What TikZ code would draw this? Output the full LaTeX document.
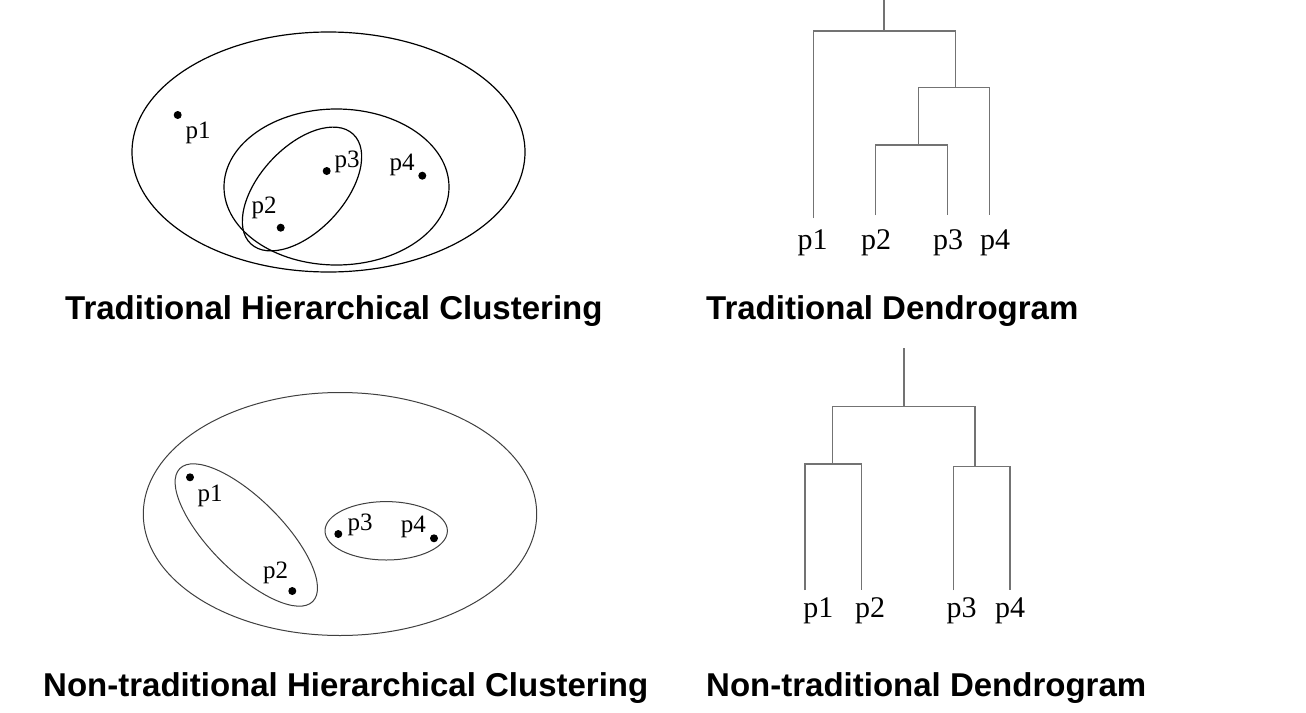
\documentclass[tikz,border=0pt]{standalone}
\usepackage{fontspec}
\setmainfont{Liberation Serif}
\setsansfont{Liberation Sans}
\begin{document}
\begin{tikzpicture}[x=1pt,y=-1pt,
  dot/.style={circle,fill=black,inner sep=0pt,minimum size=8pt},
  plabel/.style={inner sep=0pt,font=\fontsize{25}{25}\selectfont},
  dlabel/.style={inner sep=0pt,font=\fontsize{30}{30}\selectfont},
  title/.style={inner sep=0pt,anchor=base west,font=\sffamily\bfseries\fontsize{33}{33}\selectfont},
  clus/.style={draw=black,line width=1.2pt},
  clusb/.style={draw=black!75,line width=1pt},
  dend/.style={draw=black!55,line width=1.4pt}]
\useasboundingbox (0,0) rectangle (1306,712);
\fill[white] (0,0) rectangle (1306,712);

% ---------- Traditional hierarchical clustering ----------
\draw[clus] (328.5,152) ellipse [x radius=196.5pt, y radius=120pt];
\draw[clus] (336.5,187) ellipse [x radius=112.5pt, y radius=78pt];
\draw[clus, rotate around={47:(302,189)}] (302,189) ellipse [x radius=75pt, y radius=42pt];
\node[dot] (a1) at (177.7,115) {};
\node[dot] (a2) at (280.7,227.7) {};
\node[dot] (a3) at (326.7,171) {};
\node[dot] (a4) at (422.3,175.7) {};
\node[plabel] (la1) at (198,133) {p1};
\node[plabel] (la2) at (264,208) {p2};
\node[plabel] (la3) at (347,162) {p3};
\node[plabel] (la4) at (402,165) {p4};
\node[title] (t1) at (65,319) {Traditional Hierarchical Clustering};

% ---------- Traditional dendrogram ----------
\node[dlabel] (d1) at (812.5,243) {p1};
\node[dlabel] (d2) at (876,243) {p2};
\node[dlabel] (d3) at (948,243) {p3};
\node[dlabel] (d4) at (995,243) {p4};
\coordinate (r) at (884,0);
\coordinate (m) at (884,31);
\coordinate (mL) at (813.3,31);
\coordinate (mR) at (955.3,31);
\coordinate (n) at (955.3,87.7);
\coordinate (nL) at (918.3,87.7);
\coordinate (nR) at (989.7,87.7);
\coordinate (k) at (918.3,145);
\coordinate (kL) at (875.7,145);
\coordinate (kR) at (947.7,145);
\coordinate (e1) at (813.3,218);
\coordinate (e2) at (875.7,215);
\coordinate (e3) at (947.7,215);
\coordinate (e4) at (989.7,215);
\draw[dend] (r) -- (m);
\draw[dend] (e1) -- (mL) -- (mR) -- (n);
\draw[dend] (k) -- (nL) -- (nR) -- (e4);
\draw[dend] (e2) -- (kL) -- (kR) -- (e3);
\node[title] (t2) at (706,319) {Traditional Dendrogram};

% ---------- Non-traditional hierarchical clustering ----------
\draw[clusb] (340,514) ellipse [x radius=196.7pt, y radius=121.5pt];
\draw[clusb, rotate around={-45:(246.3,535)}] (246.3,535) ellipse [x radius=94pt, y radius=36pt];
\draw[clusb] (386.2,530.8) ellipse [x radius=61.2pt, y radius=29.2pt];
\node[dot] (b1) at (190,477.3) {};
\node[dot] (b2) at (292.3,591) {};
\node[dot] (b3) at (338.3,534) {};
\node[dot] (b4) at (434,538.3) {};
\node[plabel] (lb1) at (210,496) {p1};
\node[plabel] (lb2) at (275.7,573.3) {p2};
\node[plabel] (lb3) at (360,525) {p3};
\node[plabel] (lb4) at (413.3,527.3) {p4};
\node[title] (t3) at (43,696) {Non-traditional Hierarchical Clustering};

% ---------- Non-traditional dendrogram ----------
\node[dlabel] (f1) at (818.3,611) {p1};
\node[dlabel] (f2) at (870,611) {p2};
\node[dlabel] (f3) at (961.7,611) {p3};
\node[dlabel] (f4) at (1010,611) {p4};
\coordinate (s) at (904,348.3);
\coordinate (u) at (904,406.7);
\coordinate (uL) at (832.7,406.7);
\coordinate (uR) at (975,406.7);
\coordinate (v) at (832.7,464);
\coordinate (vL) at (805,464);
\coordinate (vR) at (861.7,464);
\coordinate (w) at (975,466.7);
\coordinate (wL) at (953.3,466.7);
\coordinate (wR) at (1010,466.7);
\coordinate (g1) at (805,590);
\coordinate (g2) at (861.7,590);
\coordinate (g3) at (953.3,590);
\coordinate (g4) at (1010,590);
\draw[dend] (s) -- (u);
\draw[dend] (v) -- (uL) -- (uR) -- (w);
\draw[dend] (g1) -- (vL) -- (vR) -- (g2);
\draw[dend] (g3) -- (wL) -- (wR) -- (g4);
\node[title] (t4) at (706,696) {Non-traditional Dendrogram};
\end{tikzpicture}
\end{document}
